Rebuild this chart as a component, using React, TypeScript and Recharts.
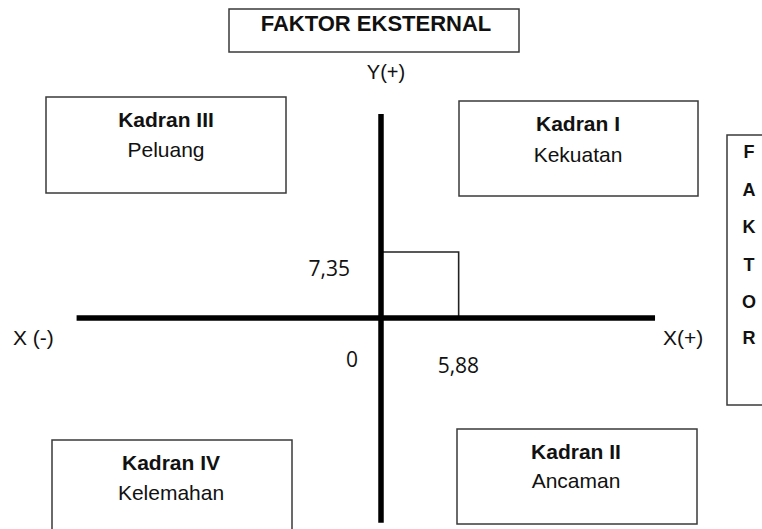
import React from 'react';
import { ComposedChart, XAxis, YAxis, Scatter, ReferenceLine, ReferenceArea, ReferenceDot } from 'recharts';

// values
const scoreX = [5.88];
const scoreY = [7.35];
const tickLabels = ['0', '7,35', '5,88'];
const quadrantTitles = ['Kadran I', 'Kadran II', 'Kadran III', 'Kadran IV'];
const quadrantNames = ['Kekuatan', 'Ancaman', 'Peluang', 'Kelemahan'];
const axisNames = ['X (-)', 'X(+)', 'Y(+)'];
const topTitle = 'FAKTOR EKSTERNAL';
const sideTitle = ['F', 'A', 'K', 'T', 'O', 'R'];

const points = scoreX.map((x, i) => ({ x, y: scoreY[i] }));

const W = 762;
const H = 529;
const FONT = '"Liberation Sans", Arial, Helvetica, sans-serif';
const NUM_FONT = '"Open Sans", "Liberation Sans", sans-serif';
const BOX = '#3a3a3a';

// box layout (pixels): one per quadrant title, same order as quadrantTitles
const quadBoxes = [
  { x: 459, y: 101, w: 239, h: 95, cx: 578, b1: 131, b2: 162 },
  { x: 457, y: 429, w: 240, h: 95, cx: 576, b1: 459, b2: 488 },
  { x: 46, y: 97, w: 240, h: 96, cx: 166, b1: 127, b2: 157 },
  { x: 52, y: 440, w: 240, h: 120, cx: 171, b1: 470, b2: 500 },
];
const sideBaselines = [158, 196, 233, 271, 308, 344];

const numLabel = (text: string, dx: number, dy: number, anchor: 'start' | 'end') =>
  (props: any) => {
    const vb = props.viewBox || {};
    return (
      <text x={vb.x + dx} y={vb.y + dy} textAnchor={anchor} fontFamily={NUM_FONT} fontSize={21} fill="#111">
        {text}
      </text>
    );
  };

export default function App() {
  const px = scoreX[0];
  const py = scoreY[0];
  return (
    <div style={{ position: 'absolute', left: 0, top: 0, width: W, height: H, background: '#fff' }}>
      <ComposedChart width={W} height={H} data={points} margin={{ top: 0, right: 0, bottom: 0, left: 0 }}>
        <XAxis type="number" dataKey="x" domain={[-28.85, 28.85]} hide />
        <YAxis type="number" dataKey="y" domain={[-23.5, 35.4]} hide />
        <ReferenceArea x1={0} x2={px} y1={0} y2={py} fill="none" stroke="#222" strokeWidth={1.6} />
        <ReferenceLine segment={[{ x: -23.05, y: 0 }, { x: 20.75, y: 0 }]} stroke="#000" strokeWidth={5.5} />
        <ReferenceLine segment={[{ x: 0, y: 22.7 }, { x: 0, y: -22.8 }]} stroke="#000" strokeWidth={5.5} />
        <ReferenceDot x={0} y={py} r={0} label={numLabel(tickLabels[1], -31, 24, 'end')} />
        <ReferenceDot x={0} y={0} r={0} label={numLabel(tickLabels[0], -23, 49, 'end')} />
        <ReferenceDot x={px} y={0} r={0} label={numLabel(tickLabels[2], -21, 55, 'start')} />
        <Scatter dataKey="y" isAnimationActive={false} shape={() => <g />} />
      </ComposedChart>
      <svg width={W} height={H} style={{ position: 'absolute', left: 0, top: 0, pointerEvents: 'none' }}>
        <rect x={229} y={9} width={290} height={43} fill="none" stroke={BOX} strokeWidth={1.5} />
        <text x={376} y={31} textAnchor="middle" fontFamily={FONT} fontWeight="bold" fontSize={22} fill="#111">
          {topTitle}
        </text>
        <text x={386} y={79} textAnchor="middle" fontFamily={FONT} fontSize={20} fill="#111">
          {axisNames[2]}
        </text>
        <text x={13} y={345} fontFamily={FONT} fontSize={21} fill="#111">{axisNames[0]}</text>
        <text x={663} y={345} fontFamily={FONT} fontSize={21} fill="#111">{axisNames[1]}</text>
        {quadBoxes.map((b, i) => (
          <g key={i}>
            <rect x={b.x} y={b.y} width={b.w} height={b.h} fill="none" stroke={BOX} strokeWidth={1.5} />
            <text x={b.cx} y={b.b1} textAnchor="middle" fontFamily={FONT} fontWeight="bold" fontSize={21} fill="#111">
              {quadrantTitles[i]}
            </text>
            <text x={b.cx} y={b.b2} textAnchor="middle" fontFamily={FONT} fontSize={21} fill="#111">
              {quadrantNames[i]}
            </text>
          </g>
        ))}
        <rect x={727} y={135} width={60} height={270} fill="none" stroke={BOX} strokeWidth={1.5} />
        {sideTitle.map((ch, i) => (
          <text key={ch + i} x={749} y={sideBaselines[i]} textAnchor="middle" fontFamily={FONT} fontWeight="bold" fontSize={18} fill="#111">
            {ch}
          </text>
        ))}
      </svg>
    </div>
  );
}
